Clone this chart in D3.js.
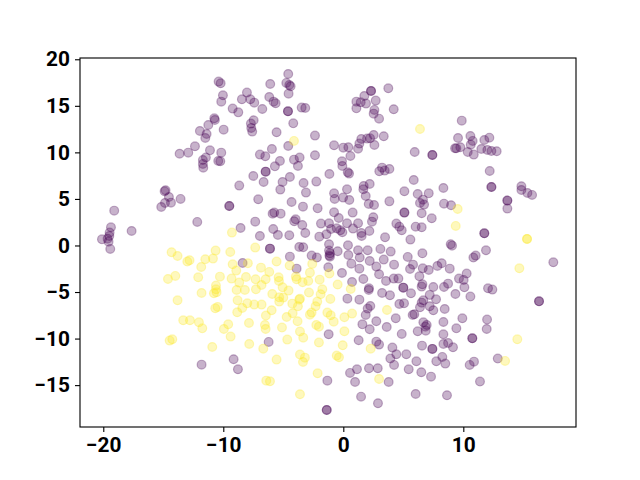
<!DOCTYPE html>
<html><head><meta charset="utf-8">
<script src="https://cdn.jsdelivr.net/npm/d3@7/dist/d3.min.js"></script>
<style>html,body{margin:0;padding:0;background:#fff}svg{display:block}</style>
</head><body><div id="c"></div>
<script>
const purple = [
[-19.09,3.74],[-19.36,1.95],[-19.47,1.38],[-20.11,0.66],[-19.64,0.73],[-19.50,1.02],[-19.56,0.41],[-17.64,1.56],[-12.17,2.53],[-15.17,4.14],[-14.86,4.57],[-14.36,4.60],[-14.53,5.21],[-14.81,5.93],[-14.89,5.82],[-13.56,5.00],[-9.50,4.24],[-9.50,4.24],[-8.67,6.43],[-7.50,7.47],[-6.64,6.82],[-6.47,7.93],[-6.47,7.93],[-7.09,4.96],[-5.25,6.00],[-5.06,6.82],[-4.45,7.36],[-5.70,8.50],[-5.28,9.08],[-6.95,9.76],[-6.50,9.58],[-5.95,10.37],[-4.59,10.69],[-4.11,9.22],[-3.64,9.44],[-3.78,8.54],[-2.36,9.69],[-2.36,11.80],[-4.17,13.12],[-5.56,12.16],
[-13.64,9.86],[-12.92,9.97],[-12.36,10.65],[-11.70,9.18],[-11.45,9.44],[-11.70,8.76],[-11.67,8.36],[-11.11,10.22],[-10.17,9.97],[-10.42,9.08],[-10.25,9.04],[-11.95,12.30],[-11.50,11.55],[-11.39,11.98],[-11.25,12.94],[-10.75,13.66],[-10.70,13.48],[-9.97,12.44],[-10.39,17.60],[-10.22,17.42],[-10.03,16.13],[-10.17,15.45],[-9.22,14.70],[-8.75,14.30],[-8.45,15.70],[-8.03,16.42],[-7.75,15.70],[-7.42,15.34],[-6.75,14.66],[-7.70,13.09],[-7.47,13.45],[-7.67,12.62],[-7.59,12.23],[-6.09,17.35],[-6.17,15.95],[-5.81,15.45],[-5.64,15.27],[-4.59,18.42],[-4.75,17.46],[-4.50,17.24],[-4.39,17.10],[-4.56,16.31],[-4.61,14.41],[-4.61,14.41],[-3.47,14.81],[-3.17,14.77],
[-3.31,6.71],[-2.25,6.86],[-3.11,5.68],[-4.31,4.67],[-3.36,4.17],[-2.14,3.99],[-5.89,3.42],[-5.75,3.53],[-5.22,3.42],[-7.34,2.56],[-8.56,1.88],[-6.95,1.02],[-5.84,1.77],[-5.45,1.13],[-4.50,1.09],[-4.09,2.60],[-3.97,2.81],[-3.42,2.20],[-3.17,1.34],[-1.86,2.35],[-2.00,0.95],
[3.75,16.88],[2.31,16.60],[2.31,16.60],[1.75,16.06],[1.09,15.45],[1.45,15.38],[1.89,15.24],[2.70,15.56],[1.09,14.73],[2.59,14.56],[2.53,14.16],[2.98,13.62],[4.20,14.63],[-0.77,10.76],[0.00,10.51],[0.42,10.55],[1.23,10.40],[1.34,10.94],[1.50,11.44],[1.98,11.48],[2.23,11.51],[2.53,11.87],[3.37,11.73],[2.59,10.80],[0.59,9.61],[-0.11,9.04],[-0.08,8.54],[-1.16,7.68],[0.37,7.86],[0.48,7.72],[3.00,7.97],[3.23,8.36],[3.45,8.04],[3.84,8.22],[5.95,10.04],[7.42,9.72],[7.42,9.72],[5.87,7.04],
[9.87,13.41],[9.56,11.55],[10.59,11.76],[10.78,11.23],[10.62,10.83],[9.75,10.55],[9.31,10.44],[9.42,10.44],[10.37,10.04],[10.87,9.76],[11.50,10.37],[11.75,11.33],[12.17,11.58],[12.00,10.26],[12.34,10.15],[12.78,10.12],[12.20,8.00],[12.34,6.28],[12.34,6.28],[14.84,6.36],[14.84,5.96],[15.34,5.64],[15.73,5.43],[13.67,4.82],[13.67,4.82],[13.67,3.96],[8.34,6.18],[6.20,5.53],[7.12,5.60],[5.09,5.82],[8.39,4.49],[8.98,4.32],[6.64,4.92],[6.39,4.57],[6.73,4.39],[3.84,4.74],[6.53,3.46],[7.37,2.92],[5.09,3.53],[5.09,3.53],
[2.20,6.61],[1.70,6.39],[1.67,6.03],[0.31,6.03],[-0.77,5.60],[-0.72,5.00],[-0.02,5.14],[0.50,4.89],[1.87,5.32],[2.12,4.46],[2.56,4.35],[-0.77,3.56],[-0.38,2.95],[0.78,3.53],[2.50,3.03],[2.39,2.56],[0.31,2.38],[1.23,2.38],[-1.19,2.38],[-1.02,1.77],[-0.55,1.84],[-0.25,1.63],[-0.08,1.42],[0.81,1.81],[-1.41,1.20],[1.50,1.34],[1.53,1.02],[2.17,1.56],[4.42,2.35],[4.67,2.02],[4.87,1.63],[6.03,2.02],[6.53,1.95],[5.59,0.63],[3.48,0.88],[11.75,1.31],[11.75,1.31],
[-19.42,-0.37],[-6.11,-0.34],[-6.11,-0.34],[-3.67,-0.16],[-3.34,-0.19],[-4.45,-1.20],[-2.64,-1.09],[-2.20,-1.30],[-8.39,-1.88],[-3.89,-2.49],[-6.22,-10.36],[-9.14,-12.22],[-8.78,-13.30],[-11.81,-12.80],
[-1.19,0.13],[-0.47,-0.62],[-1.11,-0.84],[-1.16,-1.09],[-1.19,-0.55],[-1.11,-1.20],[0.39,0.02],[0.42,-1.02],[1.23,-0.52],[1.37,-1.30],[2.03,-0.52],[3.09,-0.37],[3.95,-0.66],[2.20,-1.66],[3.37,-1.52],[0.67,-1.95],[1.34,-2.49],[2.75,-2.27],[4.23,-2.06],[5.37,-1.23],[6.59,-0.84],[5.81,-2.06],[5.56,-2.52],[6.62,-2.45],[7.12,-2.63],[7.84,-2.20],[8.20,-1.91],[8.87,-2.49],[8.95,0.13],[9.06,-0.02],[10.84,-1.30],[11.03,-1.09],[11.89,-0.52],[17.50,-1.81],
[-1.25,-2.34],[-0.11,-2.95],[2.98,-3.09],[0.73,-3.92],[1.67,-3.60],[3.56,-3.81],[4.20,-3.56],[4.59,-3.56],[6.34,-3.31],[9.64,-3.56],[10.03,-3.70],[10.28,-3.02],[10.09,-4.49],[8.73,-4.10],[8.39,-4.46],[7.50,-4.46],[6.59,-4.17],[6.53,-4.42],[5.00,-4.53],[5.00,-4.53],[2.14,-4.60],[2.12,-4.78],[3.23,-5.10],[3.89,-5.35],[5.64,-5.14],[9.34,-5.21],[10.59,-5.49],[12.06,-4.60],[12.42,-4.74],[0.34,-5.71],[1.34,-5.82],[16.31,-6.00],[16.31,-6.00],[7.20,-5.31],[7.73,-5.78],[6.67,-5.89],[6.53,-6.14],[6.39,-6.64],[4.67,-6.28],[5.06,-6.21],[2.25,-6.50],[2.03,-6.78],[1.87,-7.46],[7.20,-6.53],[7.50,-6.96],[8.45,-6.82],[5.92,-7.39],[5.78,-7.46],[4.37,-7.82],[9.92,-7.82],[11.98,-7.96],[11.95,-8.97],
[2.75,-8.14],[1.59,-8.47],[2.20,-9.00],[3.62,-8.75],[6.67,-8.25],[6.95,-8.54],[6.84,-8.72],[6.87,-9.15],[6.20,-9.22],[8.34,-8.22],[8.34,-9.54],[9.42,-8.90],[4.87,-9.50],[-1.22,-9.54],[10.75,-9.97],[10.75,-9.97],[1.28,-10.18],[2.75,-10.33],[2.98,-10.65],[6.56,-10.76],[7.42,-11.11],[7.42,-11.11],[4.09,-10.97],[8.34,-10.58],[8.73,-10.47],[9.14,-10.94],[4.42,-11.69],[5.25,-11.69],[3.92,-12.15],[8.25,-11.97],[7.75,-12.44],[8.50,-12.69],[6.09,-12.44],[4.23,-12.83],[10.89,-12.48],[10.53,-12.83],[12.87,-12.15],[2.14,-13.19],[2.87,-13.19],[1.14,-13.30],[0.56,-13.69],[5.45,-13.30],[6.50,-13.62],[7.31,-14.09],[-1.33,-14.52],[0.98,-14.66],[3.78,-14.66],[11.39,-14.62],[1.48,-16.24],[2.89,-16.95],[6.03,-15.95],[8.64,-16.09],[-1.38,-17.67],[-1.38,-17.67]
];
const yellow = [
[-4.11,11.23],[-9.28,1.38],[6.39,12.51],[9.53,3.92],[9.37,2.10],[15.31,0.70],[15.31,0.70],
[-14.31,-0.73],[-13.81,-1.13],[-13.00,-1.73],[-12.81,-1.59],[-11.50,-1.48],[-10.86,-1.41],[-10.64,-0.55],[-9.42,-0.70],[-7.34,-0.23],[-11.84,-2.31],[-9.22,-2.02],[-8.92,-2.70],[-7.95,-1.91],[-6.86,-2.38],[-6.17,-2.84],[-5.56,-1.73],[-4.47,-2.16],[-2.59,-1.98],[-2.78,-2.92],
[-14.00,-3.27],[-14.61,-3.60],[-12.09,-3.42],[-10.28,-3.35],[-9.31,-3.56],[-8.67,-3.99],[-8.11,-3.38],[-7.31,-3.63],[-6.47,-3.63],[-5.39,-3.42],[-5.36,-3.81],[-3.95,-3.35],[-3.89,-3.63],[-3.39,-3.95],[-2.92,-3.81],[-1.97,-3.67],[-6.81,-4.24],[-5.06,-4.49],[-4.56,-4.85],[-7.28,-4.71],[-8.20,-4.78],[-8.89,-4.78],[-10.61,-4.31],[-10.61,-4.71],[-10.78,-5.14],[-10.56,-5.03],[-11.81,-5.10],[-13.81,-5.89],[-1.75,-4.71],[-2.86,-5.06],[-1.89,-5.24],[-5.92,-5.21],[-5.34,-5.57],[-5.00,-5.60],[-5.34,-6.03],[-3.61,-5.71],[-3.67,-5.82],[-8.81,-5.89],[-8.00,-6.21],[-7.42,-6.35],[-6.81,-6.35],[-8.42,-6.71],[-8.84,-7.18],[-5.97,-6.96],[-6.45,-7.53],[-4.72,-7.68],[-4.25,-6.25],[-4.22,-7.28],[-3.78,-6.53],[-2.17,-6.03],[-2.31,-6.53],[-2.64,-7.21],[-2.78,-7.43],[-10.67,-6.75],[-10.47,-6.60],
[-13.34,-8.04],[-12.78,-8.04],[-12.03,-8.25],[-11.75,-8.90],[-9.95,-8.97],[-9.59,-8.47],[-7.86,-8.32],[-6.53,-8.54],[-6.47,-8.97],[-5.11,-8.82],[-3.81,-8.14],[-2.25,-8.54],[-2.03,-8.72],[-3.61,-9.25],[-3.34,-9.90],[-4.67,-10.11],[-9.39,-9.79],[-2.03,-10.43],[-7.84,-10.58],[-10.92,-10.90],[-6.67,-11.08],[-14.47,-10.22],[-14.25,-10.08],[-3.61,-11.72],[-3.20,-12.05],[-3.36,-12.51],[-5.56,-12.26],[-2.14,-13.73],[-6.42,-14.52],[-6.11,-14.59],[-3.61,-15.98],
[-1.16,-3.02],[-0.47,-4.20],[0.62,-4.67],[-1.08,-5.74],[-1.33,-7.21],[-1.05,-7.50],[-0.80,-8.18],[0.09,-7.71],[0.73,-7.32],[0.09,-9.22],[-0.05,-10.72],[-0.55,-11.83],[-0.36,-12.01],[3.64,-6.93],[2.28,-11.08],[2.98,-14.34],[14.67,-2.45],[14.50,-10.08],[13.48,-12.40]
];
const xTicks = [-20,-10,0,10];
const yTicks = [-15,-10,-5,0,5,10,15,20];
const xDomain = [-21.94,19.39];
const yDomain = [-19.52,20.18];
const purpleColor = "#440154", yellowColor = "#fde725";

const W=640,H=480,L=80,R=576,T=57.6,B=427.2;
const x=d3.scaleLinear().domain(xDomain).range([L,R]);
const y=d3.scaleLinear().domain(yDomain).range([B,T]);
const svg=d3.select("#c").append("svg").attr("width",W).attr("height",H);
svg.append("rect").attr("width",W).attr("height",H).attr("fill","#fff");
const marks=(data,col)=>svg.append("g").selectAll("circle").data(data).join("circle")
  .attr("cx",d=>x(d[0])).attr("cy",d=>y(d[1])).attr("r",4.4)
  .attr("fill",col).attr("fill-opacity",.3)
  .attr("stroke",col).attr("stroke-opacity",.3).attr("stroke-width",1.2);
marks(purple,purpleColor);
marks(yellow,yellowColor);
const fmt=d=>String(d).replace("-","\u2212");
const gx=svg.append("g").attr("transform",`translate(0,${Math.round(B)})`)
  .call(d3.axisBottom(x).tickValues(xTicks).tickFormat(fmt).tickSizeOuter(0).tickSize(5).tickPadding(5.5));
const gy=svg.append("g").attr("transform",`translate(${L},0)`)
  .call(d3.axisLeft(y).tickValues(yTicks).tickFormat(fmt).tickSizeOuter(0).tickSize(5).tickPadding(5));
[gx,gy].forEach(g=>{
  g.select(".domain").remove();
  g.selectAll("line").attr("stroke","#000").attr("stroke-width",1.11);
  g.selectAll("text").attr("fill","#000").style("font-family","Roboto").style("font-weight","700").style("font-size","20.83px");
});
svg.append("rect").attr("x",L).attr("y",Math.round(T)).attr("width",R-L).attr("height",Math.round(B)-Math.round(T))
  .attr("fill","none").attr("stroke","#000").attr("stroke-width",1.11);
</script></body></html>
